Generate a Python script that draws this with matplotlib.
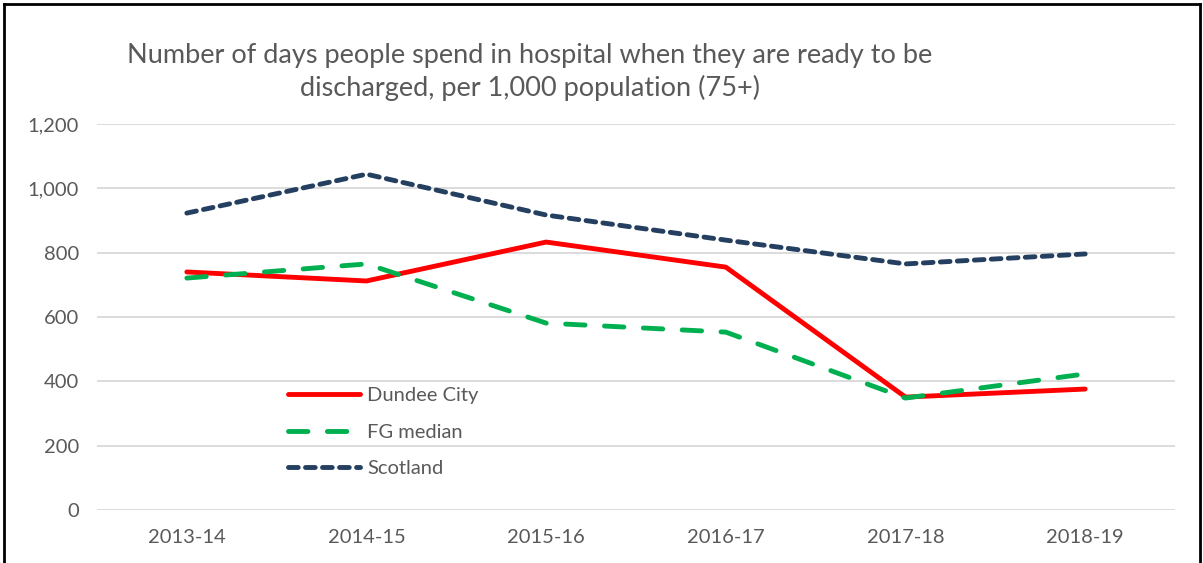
import numpy as np
import matplotlib.pyplot as plt
from matplotlib.lines import Line2D

years    = ['2013-14', '2014-15', '2015-16', '2016-17', '2017-18', '2018-19']
dundee   = [740, 712, 833, 755, 351, 376]
fg_med   = [721, 765, 581, 553, 348, 423]
scotland = [923, 1044, 917, 839, 765, 796]

W, H = 1203, 563
fig = plt.figure(figsize=(W/100., H/100.), dpi=100, facecolor='w')
plt.rcParams['font.family'] = ['Lato', 'DejaVu Sans']
grey = '#595959'

ax = fig.add_axes([97./W, 1-510./H, (1175-97.)/W, (510-124.)/H])
x = np.arange(len(years))
ax.plot(x, dundee,   color='#ff0000', lw=3.5, solid_capstyle='round', label='Dundee City')
ax.plot(x, fg_med,   color='#00b050', lw=3.5, dashes=(4, 4), dash_capstyle='round', label='FG median')
ax.plot(x, scotland, color='#243f60', lw=3.5, dashes=(2, 1.5), dash_capstyle='round', label='Scotland')

ax.set_xlim(-0.5, 5.5)
ax.set_ylim(0, 1200)
ax.set_yticks(np.arange(0, 1201, 200))
ax.set_yticklabels(['{:,}'.format(v) for v in range(0, 1201, 200)])
ax.set_xticks(x)
ax.set_xticklabels(years)
ax.grid(axis='y', color='#d9d9d9', lw=1.3)
ax.set_axisbelow(True)
for s in ax.spines.values():
    s.set_visible(False)
ax.tick_params(length=0, colors=grey, labelsize=14.5, pad=14)
ax.tick_params(axis='y', pad=13)

handles = [Line2D([0], [0], color='#ff0000', lw=3.5, solid_capstyle='round'),
           Line2D([0], [0], color='#00b050', lw=3.5, dashes=(4, 4), dash_capstyle='round'),
           Line2D([0], [0], color='#243f60', lw=3.5, dashes=(2, 1.5), dash_capstyle='round')]
leg = ax.legend(handles, ['Dundee City', 'FG median', 'Scotland'], loc='upper left',
                bbox_to_anchor=(0.16, 0.365), frameon=False, fontsize=14.5,
                handlelength=3.6, handletextpad=0.35, labelspacing=0.95)
for t in leg.get_texts():
    t.set_color(grey)

fig.text(530./W, 1-55./H, 'Number of days people spend in hospital when they are ready to be',
         ha='center', va='center', fontsize=19.5, color=grey)
fig.text(530./W, 1-88./H, 'discharged, per 1,000 population (75+)',
         ha='center', va='center', fontsize=19.5, color=grey)

# outer frame (bottom edge cut off in original)
fig.add_artist(Line2D([4./W, 4./W], [0, 1-4./H], color='k', lw=2, transform=fig.transFigure))
fig.add_artist(Line2D([4./W, 1-3./W], [1-4./H, 1-4./H], color='k', lw=2, transform=fig.transFigure))
fig.add_artist(Line2D([1-3./W, 1-3./W], [0, 1-4./H], color='k', lw=2, transform=fig.transFigure))

plt.savefig('out.png', dpi=100)
